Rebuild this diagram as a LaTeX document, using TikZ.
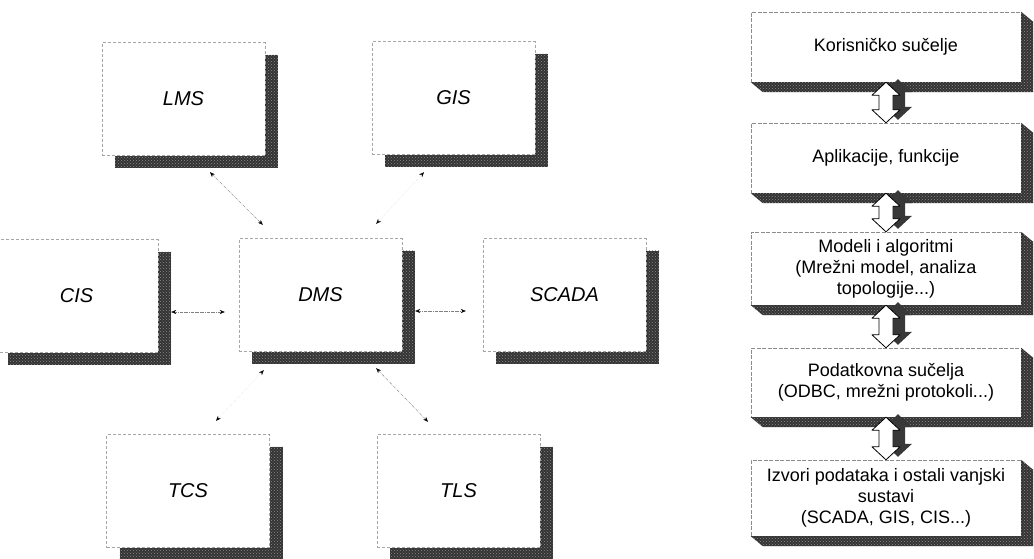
\documentclass[tikz,border=0pt]{standalone}
\usepackage{fontspec}
\setmainfont{Liberation Sans}
\usepackage{tikz}
\usetikzlibrary{arrows.meta, calc, shadows, patterns}

% dvostruka blok strelica izmedju dva sloja
\newcommand{\layerarrow}[2]{%
    \fill[black!78, transform canvas={xshift=12pt, yshift=3pt}]
        (#1.south) -- ($(#1.south)+(14,13)$) -- ($(#1.south)+(7,13)$) -- ($(#2.north)+(7,-13)$)
        -- ($(#2.north)+(14,-13)$) -- (#2.north) -- ($(#2.north)+(-14,-13)$) -- ($(#2.north)+(-7,-13)$)
        -- ($(#1.south)+(-7,13)$) -- ($(#1.south)+(-14,13)$) -- cycle;
    \draw[thick, fill=white, line join=round]
        (#1.south) -- ($(#1.south)+(14,13)$) -- ($(#1.south)+(7,13)$) -- ($(#2.north)+(7,-13)$)
        -- ($(#2.north)+(14,-13)$) -- (#2.north) -- ($(#2.north)+(-14,-13)$) -- ($(#2.north)+(-7,-13)$)
        -- ($(#1.south)+(-7,13)$) -- ($(#1.south)+(-14,13)$) -- cycle;}

\begin{document}
\begin{tikzpicture}[x=1pt, y=-1pt,
    sysbox/.style={draw=black!35, dash pattern=on 3pt off 2pt, thin, fill=white,
        minimum width=163pt, minimum height=113pt, inner sep=0pt,
        font=\itshape\fontsize{20}{24}\selectfont,
        drop shadow={shadow xshift=13pt, shadow yshift=-12pt, fill=black!80, opacity=1,
            postaction={pattern=crosshatch dots, pattern color=black!45}}},
    layerbox/.style={draw=black!45, dash pattern=on 4pt off 1.5pt, thin, fill=white,
        minimum width=270pt, inner sep=0pt, align=center,
        font=\fontsize{18}{21}\selectfont},
    extrude/.style={fill=black!80, postaction={pattern=crosshatch dots, pattern color=black!45}},
    link/.style={densely dash dot, black!50, thin,
        {Stealth[length=5pt, width=4pt, color=black]}-{Stealth[length=5pt, width=4pt, color=black]}},
    faintlink/.style={link, black!8}]
    \useasboundingbox (0,0) rectangle (1034,558);

    % sustavi oko DMS-a
    \node[sysbox] (lms)   at (183.5,99)  {LMS};
    \node[sysbox] (gis)   at (453.5,98)  {GIS};
    \node[sysbox] (cis)   at (76.5,296)  {CIS};
    \node[sysbox] (dms)   at (320.5,295) {DMS};
    \node[sysbox] (scada) at (564.5,295) {SCADA};
    \node[sysbox] (tcs)   at (188,491)   {TCS};
    \node[sysbox] (tls)   at (458.5,491) {TLS};

    % veze
    \draw[link] ([shift={(26.5,16.5)}]lms.south) -- ([shift={(24,-13.5)}]dms.north west);
    \draw[faintlink] ([shift={(-29.5,17.5)}]gis.south) -- ([shift={(-26,-14.5)}]dms.north east);
    \draw[link] ([shift={(13,16)}]cis.east) -- ([shift={(-14,17)}]dms.west);
    \draw[link] ([shift={(13,16)}]dms.east) -- ([shift={(-17,16)}]scada.west);
    \draw[faintlink] ([shift={(25,18.5)}]dms.south west) -- ([shift={(28,-13.5)}]tcs.north);
    \draw[link] ([shift={(-26,16.5)}]dms.south east) -- ([shift={(-30.5,-12.5)}]tls.north);

    % slojevi
    \node[layerbox, minimum height=70pt] (ui)    at (886,47)    {Korisničko sučelje};
    \node[layerbox, minimum height=70pt] (app)   at (886,158)   {Aplikacije, funkcije};
    \node[layerbox, minimum height=73pt] (model) at (886,268.5) {Modeli i algoritmi\\(Mrežni model, analiza\\topologije...)};
    \node[layerbox, minimum height=69pt] (iface) at (886,382.5) {Podatkovna sučelja\\(ODBC, mrežni protokoli...)};
    \node[layerbox, minimum height=76pt] (src)   at (886,498)   {Izvori podataka i ostali vanjski\\sustavi\\(SCADA, GIS, CIS...)};

    \foreach \n in {ui, app, model, iface, src}
        \fill[extrude] (\n.north east) -- ++(12,10) |- ($(\n.south west)+(12,10)$)
            -- (\n.south west) -- (\n.south east) -- cycle;

    % strelice izmedju slojeva
    \layerarrow{ui}{app}
    \layerarrow{app}{model}
    \layerarrow{model}{iface}
    \layerarrow{iface}{src}

\end{tikzpicture}
\end{document}
